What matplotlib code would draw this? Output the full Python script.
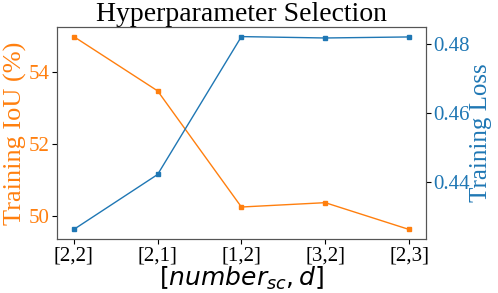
import matplotlib
matplotlib.use('Agg')
import matplotlib.pyplot as plt

plt.rcParams['font.family'] = 'Liberation Serif'
plt.rcParams['mathtext.fontset'] = 'dejavusans'

configs = ['[2,2]', '[2,1]', '[1,2]', '[3,2]', '[2,3]']
train_iou = [54.97, 53.47, 50.26, 50.38, 49.64]
train_loss = [0.4264, 0.4423, 0.4822, 0.4818, 0.4821]

fig = plt.figure(figsize=(4.98, 2.93), dpi=100)
ax1 = fig.add_axes([0.1145, 0.184, 0.7405, 0.724])

color = 'tab:orange'
ax1.plot(configs, train_iou, color=color, marker='s', markersize=3, linewidth=1)
ax1.set_ylabel('Training IoU (%)', color=color, fontsize=19, labelpad=1)
ax1.tick_params(axis='y', labelcolor=color, labelsize=15, pad=2)
ax1.tick_params(axis='x', labelsize=15, pad=2)
ax1.set_xlabel(r'$[number_{sc}, d]$', fontsize=18, labelpad=-1)
ax1.set_title('Hyperparameter Selection', fontsize=20, pad=2)
ax1.set_yticks([50, 52, 54])

ax2 = ax1.twinx()
color = 'tab:blue'
ax2.plot(configs, train_loss, color=color, marker='s', markersize=3, linewidth=1)
ax2.set_ylabel('Training Loss', color=color, fontsize=18, labelpad=0)
ax2.tick_params(axis='y', labelcolor=color, labelsize=15, pad=2)
ax2.set_yticks([0.44, 0.46, 0.48])

for ax in (ax1, ax2):
    for s in ax.spines.values():
        s.set_color('#555555')

fig.savefig('out.png', dpi=100)
